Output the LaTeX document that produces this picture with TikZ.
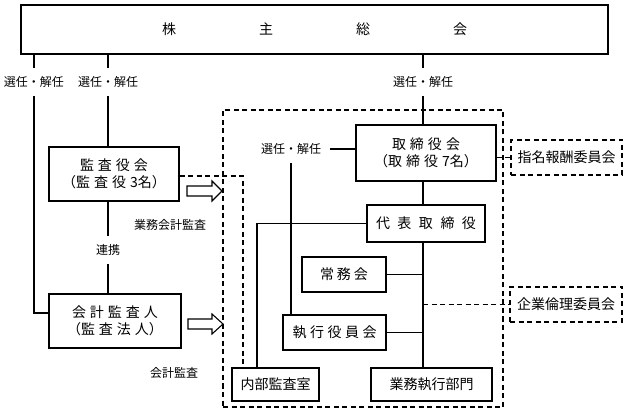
\documentclass[tikz,border=0pt]{standalone}
\usepackage{fontspec}
\setmainfont{Noto Sans CJK JP}
\newcommand{\jsp}{\hspace{4pt}}
\tikzset{
  box/.style={draw, inner sep=0pt, align=center, font=\fontsize{14}{17}\selectfont},
  lbl/.style={inner sep=8pt, font=\fontsize{12}{14}\selectfont},
  dsh/.style={dash pattern=on 5pt off 3.5pt},
}
\begin{document}
\begin{tikzpicture}[x=1pt,y=-1pt,line width=1.1pt]
    \useasboundingbox (0,0) rectangle (627,414);
    \node[box, minimum width=587pt, minimum height=49pt] (gm) at (314.5,29.5) {株\hspace{83pt}主\hspace{83pt}総\hspace{83pt}会};
    \node[lbl] (sel1) at (34,82) {選任・解任};
    \node[lbl] (sel2) at (108,82) {選任・解任};
    \node[lbl] (sel3) at (423,82) {選任・解任};
    \node[box, minimum width=130pt, minimum height=54pt] (ksy) at (114,174) {監\jsp 査\jsp 役\jsp 会\\（監\jsp 査\jsp 役\jsp 3名）};
    \node[lbl] (renkei) at (108,250) {連携};
    \node[box, minimum width=132pt, minimum height=54pt] (aud) at (115,321) {会\jsp 計\jsp 監\jsp 査\jsp 人\\（監\jsp 査\jsp 法\jsp 人）};
    \node[lbl] (gk) at (170,225) {業務会計監査};
    \node[lbl] (kk) at (174,373) {会計監査};
    \node[draw, dsh, minimum width=280pt, minimum height=297pt] (grp) at (363,258.5) {};
    \node[box, minimum width=140pt, minimum height=56pt] (bod) at (426,153) {取\jsp 締\jsp 役\jsp 会\\（取\jsp 締\jsp 役\jsp 7名）};
    \node[lbl] (sel4) at (291,149) {選任・解任};
    \node[box, minimum width=118pt, minimum height=37pt] (rep) at (426,223.5) {代\hspace{7.5pt}表\hspace{7.5pt}取\hspace{7.5pt}締\hspace{7.5pt}役};
    \node[box, minimum width=84pt, minimum height=35pt] (jm) at (344,274.5) {常\hspace{3pt}務\hspace{3pt}会};
    \node[box, minimum width=103pt, minimum height=35pt] (eo) at (334.5,332.5) {執\hspace{3.5pt}行\hspace{3.5pt}役\hspace{3.5pt}員\hspace{3.5pt}会};
    \node[box, minimum width=87pt, minimum height=33pt] (ia) at (275.5,384.5) {内部監査室};
    \node[box, minimum width=121pt, minimum height=33pt] (bu) at (431.5,384.5) {業務執行部門};
    \node[box, dsh, minimum width=111pt, minimum height=35pt] (nom) at (566.5,157.5) {指名報酬委員会};
    \node[box, dsh, minimum width=112pt, minimum height=35pt] (eth) at (566,304.5) {企業倫理委員会};
    \draw (sel1 |- gm.south) -- (sel1.north);
    \draw (sel2 |- gm.south) -- (sel2.north);
    \draw (sel3 |- gm.south) -- (sel3.north);
    \draw (sel1.south) |- ([yshift=8pt]aud.west);
    \draw (sel2.south) -- (sel2.south |- ksy.north);
    \draw (ksy.south -| renkei) -- (renkei.north);
    \draw (renkei.south) -- (renkei.south |- aud.north);
    \draw (sel3.south) -- (sel3.south |- bod.north);
    \draw (sel4.east) -- (sel4.east -| bod.west);
    \draw (sel4.south) -- (sel4.south |- eo.north);
    \draw (bod.south -| sel3) -- (rep.north -| sel3);
    \draw (rep.south -| sel3) -- (bu.north -| sel3);
    \draw (rep.west) -| ([xshift=-18.5pt]ia.north);
    \draw (jm.east) -- (jm.east -| sel3);
    \draw (eo.east) -- (eo.east -| sel3);
    \draw[dsh] ([yshift=-2pt]ksy.east) -| ([xshift=-32.5pt]ia.north);
    \draw[dsh] (bod.east |- nom.west) -- (nom.west);
    \draw[dsh] (eth.west -| sel3) -- (eth.west);
    \draw (187,186) -- (212,186) -- (212,181) -- (222,191) -- (212,201) -- (212,196) -- (187,196) -- cycle;
    \draw (188,319) -- (212,319) -- (212,314) -- (223,324) -- (212,334) -- (212,329) -- (188,329) -- cycle;
\end{tikzpicture}
\end{document}
